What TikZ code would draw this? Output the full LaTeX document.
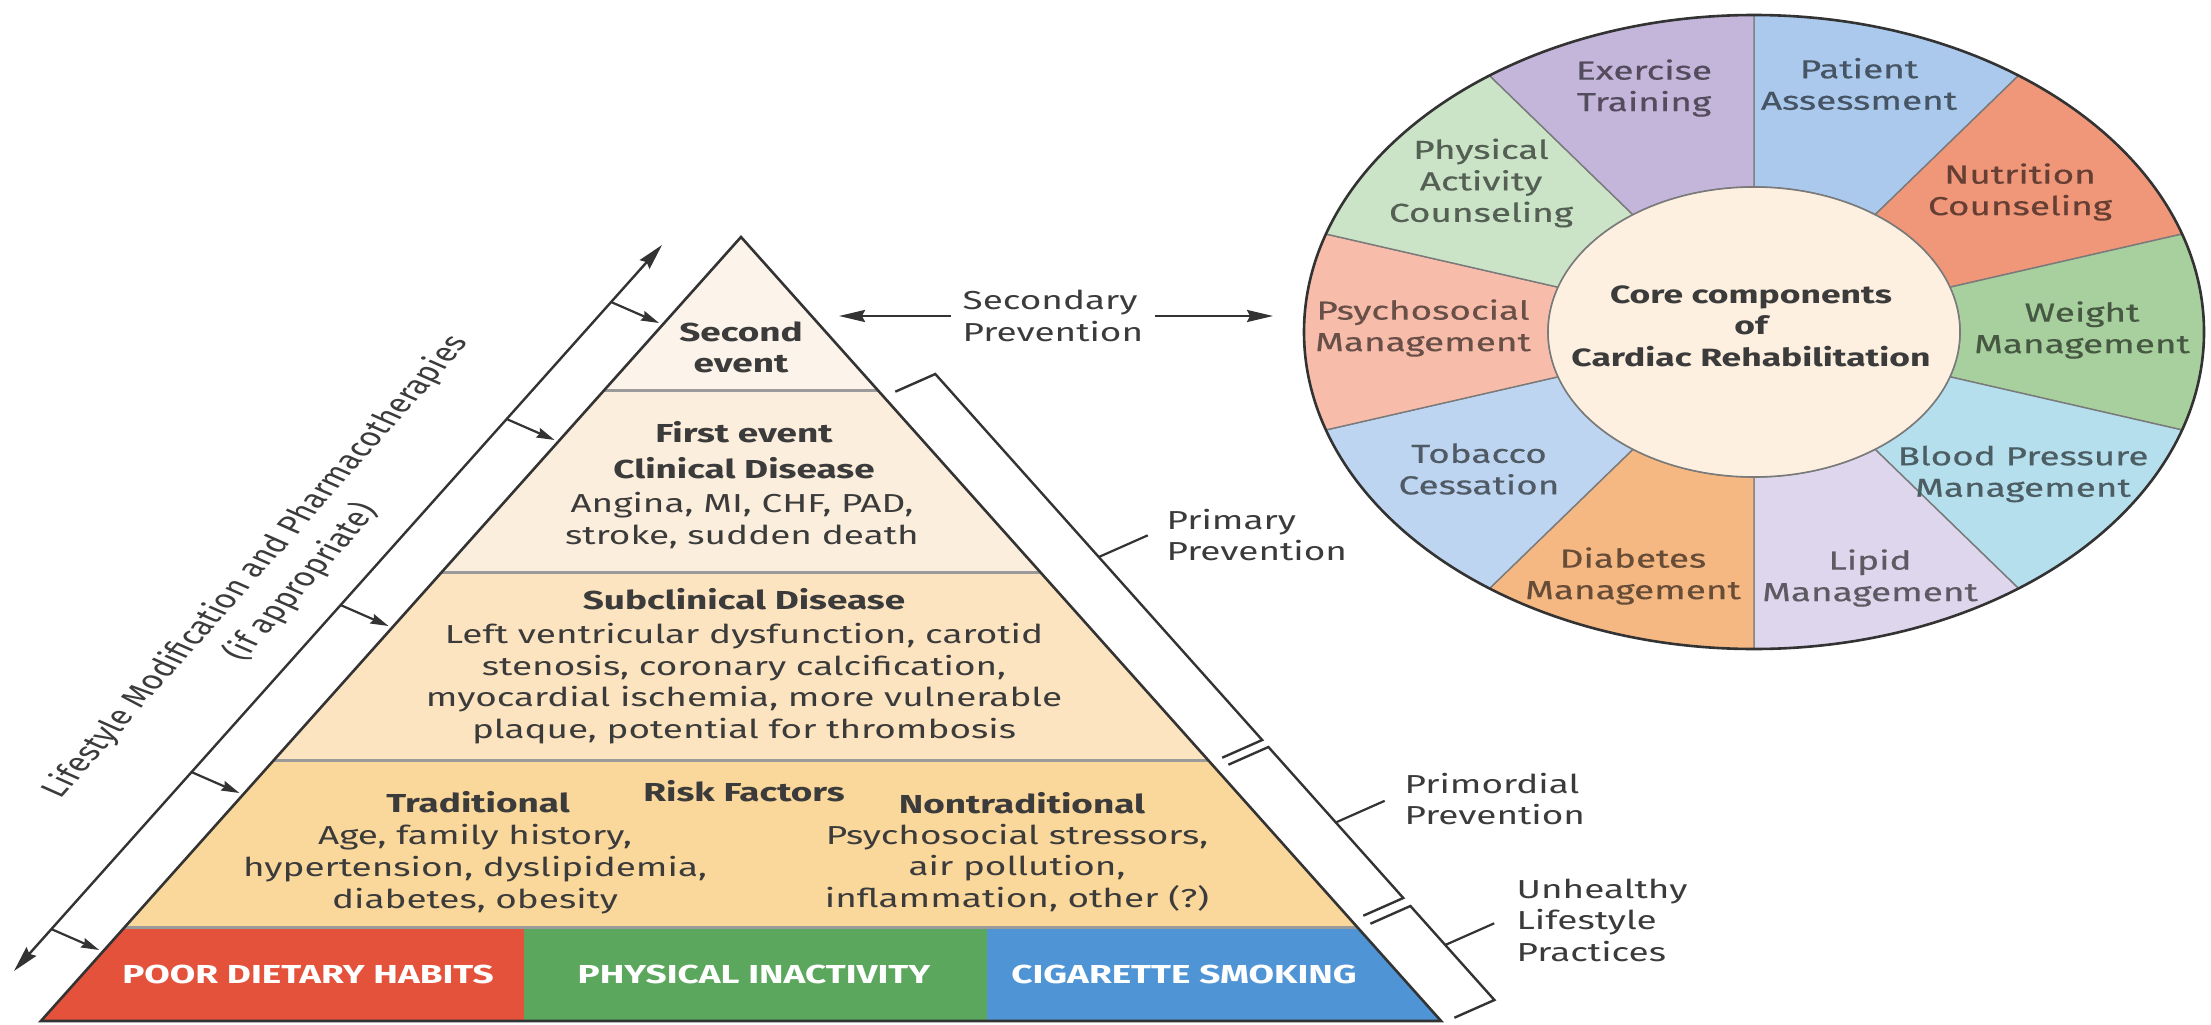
\documentclass[tikz,border=0pt]{standalone}
\usepackage{fontspec}
\setmainfont{Fira Sans}
\newfontfamily\wheelfont[FakeBold=0.4]{Fira Sans}
\usetikzlibrary{arrows.meta}

% text and line colours
\definecolor{ink}{HTML}{3B3B3B}
\definecolor{edge}{HTML}{333333}
\definecolor{bandline}{HTML}{9A9A9A}
\definecolor{divgray}{HTML}{7A7A7A}
% pyramid levels
\definecolor{bandA}{HTML}{FCF4EA}
\definecolor{bandB}{HTML}{FCEEDC}
\definecolor{bandC}{HTML}{FDE4C0}
\definecolor{bandD}{HTML}{FAD79B}
\definecolor{habitRed}{HTML}{E4523C}
\definecolor{habitGreen}{HTML}{5BA75D}
\definecolor{habitBlue}{HTML}{4F94D4}
% rehabilitation wheel
\definecolor{wPatient}{HTML}{AAC9ED}
\definecolor{wNutrition}{HTML}{F09679}
\definecolor{wWeight}{HTML}{A7D09E}
\definecolor{wPressure}{HTML}{B5DFEC}
\definecolor{wLipid}{HTML}{DDD6EC}
\definecolor{wDiabetes}{HTML}{F6B883}
\definecolor{wTobacco}{HTML}{BED5F1}
\definecolor{wPsycho}{HTML}{F8BDAA}
\definecolor{wPhysical}{HTML}{CBE4C7}
\definecolor{wExercise}{HTML}{C4B6DB}
\definecolor{coreFill}{HTML}{FDF0E0}

\begin{document}
\begin{tikzpicture}[x=1pt, y=-1pt,
  txt/.style={xscale=1.42, inner sep=0pt, text=ink, align=center,
              font=\fontsize{26}{31.7}\selectfont},
  hd/.style={txt, font=\fontsize{26}{31.7}\selectfont\bfseries},
  habit/.style={txt, text=white, font=\fontsize{26}{31.7}\selectfont\bfseries},
  side/.style={txt, align=left, anchor=west, inner xsep=3pt,
               font=\fontsize{26}{31.5}\selectfont},
  seg/.style={txt, text=#1!42!black, font=\wheelfont\fontsize{26}{31.5}\selectfont},
  core/.style={txt, font=\fontsize{25}{31.5}\selectfont\bfseries},
  outline/.style={draw=edge, line width=2.6pt, line join=miter},
  sepline/.style={draw=bandline, line width=3pt},
  brk/.style={draw=edge, line width=2.4pt, line join=miter},
  lead/.style={draw=edge, line width=2.2pt},
  longarrow/.style={draw=edge, line width=2.4pt,
     {Stealth[length=26pt,width=13pt,inset=3pt]}-{Stealth[length=26pt,width=13pt,inset=3pt]}},
  tick/.style={draw=edge, line width=2.2pt, -{Stealth[length=18pt,width=10pt,inset=2pt]}},
  secarrow/.style={draw=edge, line width=2.4pt, -{Stealth[length=26pt,width=12pt,inset=3pt]}},
]
\useasboundingbox (0,0) rectangle (2211,1025);
\fill[white] (0,0) rectangle (2211,1025);

% ---------------- pyramid ----------------
\coordinate (A)  at (741,237);
\coordinate (L1) at (604.4,390);  \coordinate (R1) at (877.6,390);
\coordinate (L2) at (441.8,572);  \coordinate (R2) at (1040.2,572);
\coordinate (L3) at (274,760);    \coordinate (R3) at (1208,760);
\coordinate (L4) at (124.8,927);  \coordinate (R4) at (1357.2,927);
\coordinate (L5) at (40.9,1021);  \coordinate (R5) at (1441.1,1021);
\coordinate (G1) at (524,927);    \coordinate (G2) at (524,1021);
\coordinate (B1) at (987,927);    \coordinate (B2) at (987,1021);

\fill[bandA] (A) -- (R1) -- (L1) -- cycle;
\fill[bandB] (L1) -- (R1) -- (R2) -- (L2) -- cycle;
\fill[bandC] (L2) -- (R2) -- (R3) -- (L3) -- cycle;
\fill[bandD] (L3) -- (R3) -- (R4) -- (L4) -- cycle;
\fill[habitRed]   (L4) -- (G1) -- (G2) -- (L5) -- cycle;
\fill[habitGreen] (G1) -- (B1) -- (B2) -- (G2) -- cycle;
\fill[habitBlue]  (B1) -- (R4) -- (R5) -- (B2) -- cycle;

\draw[sepline] (L1) -- (R1);
\draw[sepline] (L2) -- (R2);
\draw[sepline] (L3) -- (R3);
\draw[sepline] (L4) -- (R4);
\draw[outline] (A) -- (R5) -- (L5) -- cycle;

% level texts
\node[hd] (second) at (741,347.5) {Second\\event};
\node[hd] (first) at (744,432) {First event};
\node[hd] (clin) at (744,468) {Clinical Disease};
\node[txt] (clinx) at (742,520.5) {Angina, MI, CHF, PAD,\\stroke, sudden death};
\node[hd] (subc) at (744,599) {Subclinical Disease};
\node[txt] (subcx) at (744,683.5) {Left ventricular dysfunction, carotid\\stenosis, coronary calcification,\\myocardial ischemia, more vulnerable\\plaque, potential for thrombosis};
\node[hd] (risk) at (744,791) {Risk Factors};
\node[hd] (trad) at (478,802) {Traditional};
\node[txt] (tradx) at (475,869) {Age, family history,\\hypertension, dyslipidemia,\\diabetes, obesity};
\node[hd] (nontrad) at (1022,803) {Nontraditional};
\node[txt] (nontradx) at (1017,868) {Psychosocial stressors,\\air pollution,\\inflammation, other (?)};
\node[habit] (diet) at (308,974) {POOR DIETARY HABITS};
\node[habit] (inact) at (754,974) {PHYSICAL INACTIVITY};
\node[habit] (smoke) at (1184,974) {CIGARETTE SMOKING};

% ---------------- lifestyle arrow ----------------
\coordinate (LT) at (662,245);
\coordinate (LB) at (14,971);
\draw[longarrow] (LB) -- (LT);
\coordinate (t1s) at (611.1,302); \coordinate (t1e) at (659.1,323);
\coordinate (t2s) at (506.6,419); \coordinate (t2e) at (554.6,440);
\coordinate (t3s) at (340.5,605); \coordinate (t3e) at (388.5,626);
\coordinate (t4s) at (191.4,772); \coordinate (t4e) at (239.4,793);
\coordinate (t5s) at (51.2,929);  \coordinate (t5e) at (99.2,950);
\draw[tick] (t1s) -- (t1e);
\draw[tick] (t2s) -- (t2e);
\draw[tick] (t3s) -- (t3e);
\draw[tick] (t4s) -- (t4e);
\draw[tick] (t5s) -- (t5e);
\node[txt, rotate=57.8, font=\fontsize{26}{31.5}\selectfont] (lifestyle) at (256,567)
  {Lifestyle Modification and Pharmacotherapies};
\node[txt, rotate=57.8, font=\fontsize{26}{31.5}\selectfont] (approp) at (301,582)
  {(if appropriate)};

% ---------------- secondary prevention ----------------
\node[side, inner xsep=8pt] (sec) at (951,316) {Secondary\\Prevention};
\coordinate (secL) at (839,316);
\coordinate (secR) at (1273,316);
\draw[secarrow] (sec.west) -- (secL);
\draw[secarrow] (sec.east) -- (secR);

% ---------------- prevention brackets ----------------
\coordinate (P0) at (895.3,391.7);  \coordinate (P1) at (935.3,374);
\coordinate (P2) at (1262.2,740);   \coordinate (P3) at (1222.2,757.7);
\coordinate (Q0) at (1228.4,764.7); \coordinate (Q1) at (1268.4,747);
\coordinate (Q2) at (1403.3,898);   \coordinate (Q3) at (1363.3,915.7);
\coordinate (U0) at (1370.4,923.7); \coordinate (U1) at (1410.4,906);
\coordinate (U2) at (1494.4,1000);  \coordinate (U3) at (1454.4,1017.7);
\draw[brk] (P0) -- (P1) -- (P2) -- (P3);
\draw[brk] (Q0) -- (Q1) -- (Q2) -- (Q3);
\draw[brk] (U0) -- (U1) -- (U2) -- (U3);

\coordinate (pm) at (1098.8,557);   \coordinate (pe) at (1147.8,535.3);
\coordinate (qm) at (1335.7,822.5); \coordinate (qe) at (1384.7,800.8);
\coordinate (um) at (1445.2,945);   \coordinate (ue) at (1494.2,923.3);
\draw[lead] (pm) -- (pe);
\draw[lead] (qm) -- (qe);
\draw[lead] (um) -- (ue);
\node[side] (primary) at (1162,535) {Primary\\Prevention};
\node[side] (primordial) at (1400,799) {Primordial\\Prevention};
\node[side] (unhealthy) at (1512,920) {Unhealthy\\Lifestyle\\Practices};

% ---------------- cardiac rehabilitation wheel ----------------
\def\wcx{1754}\def\wcy{332}
\def\wrx{450}\def\wry{317}
\def\irx{206}\def\iry{145}
\foreach \a/\col [evaluate=\a as \b using \a-36] in
  {90/wPatient,54/wNutrition,18/wWeight,-18/wPressure,-54/wLipid,
   -90/wDiabetes,-126/wTobacco,-162/wPsycho,-198/wPhysical,-234/wExercise}{
  \filldraw[fill=\col, draw=divgray, line width=1.4pt, line join=round]
    plot[variable=\t, domain=\a:\b, samples=40] ({\wcx+\wrx*cos(\t)},{\wcy-\wry*sin(\t)})
    -- plot[variable=\t, domain=\b:\a, samples=30] ({\wcx+\irx*cos(\t)},{\wcy-\iry*sin(\t)})
    -- cycle;
}
\filldraw[fill=coreFill, draw=divgray, line width=1.6pt] (1754,332) ellipse [x radius=206pt, y radius=145pt];
\draw[edge, line width=2.6pt] (1754,332) ellipse [x radius=450pt, y radius=317pt];

\node[core] (corec) at (1751,326) {Core components\\of\\Cardiac Rehabilitation};
\node[seg=wExercise] (exer) at (1644,88)  {Exercise\\Training};
\node[seg=wPatient]  (pat)  at (1859,84)  {Patient\\Assessment};
\node[seg=wNutrition] (nutr) at (2020,192) {Nutrition\\Counseling};
\node[seg=wWeight]   (wgt)  at (2082,330) {Weight\\Management};
\node[seg=wPressure] (bp)   at (2023,474) {Blood Pressure\\Management};
\node[seg=wLipid]    (lip)  at (1870,578) {Lipid\\Management};
\node[seg=wDiabetes] (diab) at (1633,576) {Diabetes\\Management};
\node[seg=wTobacco]  (tob)  at (1479,469) {Tobacco\\Cessation};
\node[seg=wPsycho]   (psy)  at (1423,328) {Psychosocial\\Management};
\node[seg=wPhysical] (phys) at (1481,183) {Physical\\Activity\\Counseling};
\end{tikzpicture}
\end{document}
